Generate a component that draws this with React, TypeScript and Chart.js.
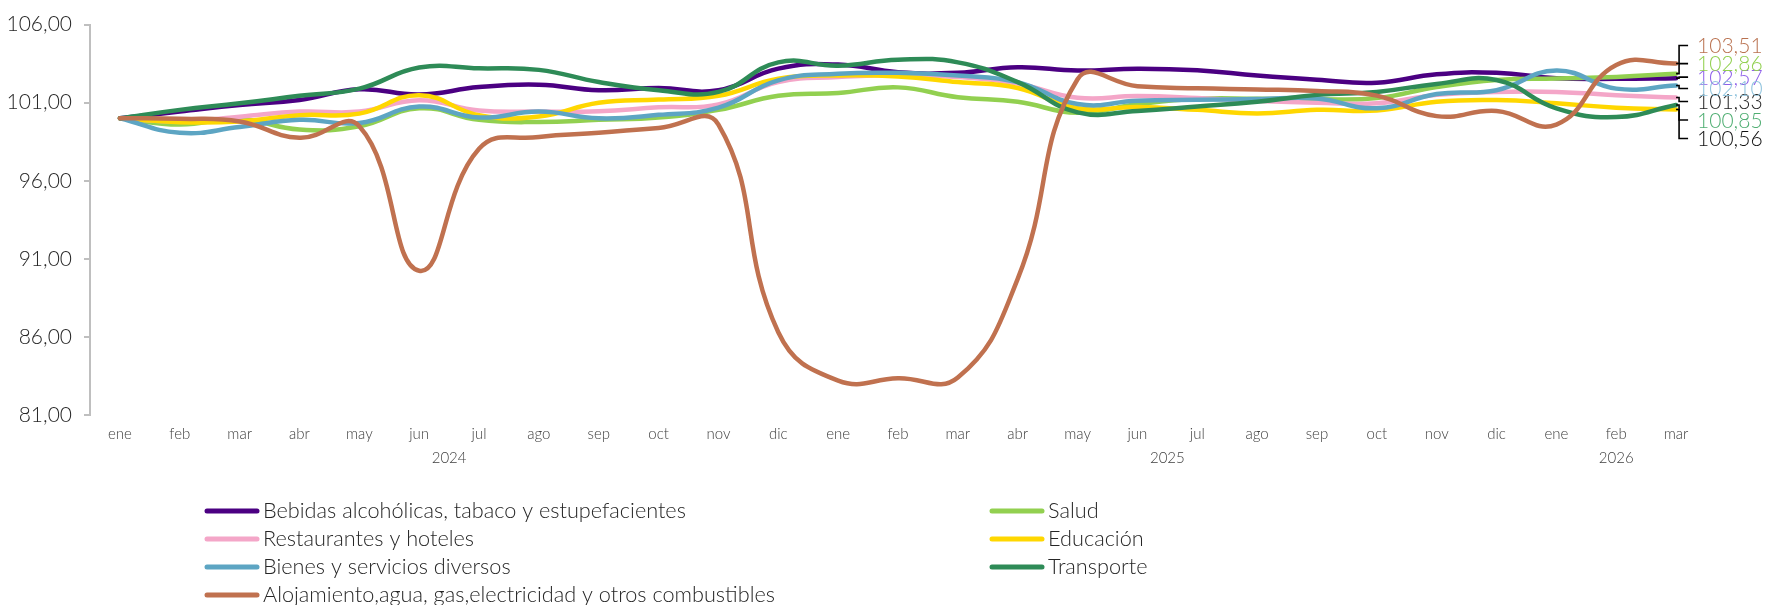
import React, { useEffect, useRef } from 'react';
import { Chart, registerables } from 'chart.js';

Chart.register(...registerables);

// ---------- DATA ----------
const months = ['ene', 'feb', 'mar', 'abr', 'may', 'jun', 'jul', 'ago', 'sep', 'oct', 'nov', 'dic',
  'ene', 'feb', 'mar', 'abr', 'may', 'jun', 'jul', 'ago', 'sep', 'oct', 'nov', 'dic',
  'ene', 'feb', 'mar'];
const yearLabels = ['2024', '2025', '2026'];
const yearFirstIndex = [0, 12, 24];
const yearLastIndex = [11, 23, 26];
const yTicks = [81, 86, 91, 96, 101, 106];

const bebidas = [100, 100.43, 100.85, 101.17, 101.86, 101.52, 102.0, 102.15, 101.8, 101.94, 101.8, 103.18, 103.44,
  102.95, 102.91, 103.27, 103.06, 103.18, 103.08, 102.74, 102.47, 102.28, 102.82, 102.91, 102.57, 102.53, 102.57];
const salud = [100, 99.6, 99.95, 99.28, 99.49, 100.64, 99.9, 99.76, 99.9, 100.05, 100.54, 101.44, 101.62,
  101.98, 101.35, 101.06, 100.35, 100.9, 101.25, 101.25, 101.22, 101.3, 102.0, 102.45, 102.55, 102.65, 102.86];
const restaurantes = [100, 99.8, 100.1, 100.43, 100.43, 101.15, 100.5, 100.43, 100.45, 100.7, 100.89, 102.32, 102.64,
  102.78, 102.64, 102.22, 101.31, 101.42, 101.3, 101.1, 101.0, 100.96, 101.5, 101.69, 101.69, 101.48, 101.33];
const educacion = [100, 99.75, 99.8, 100.2, 100.3, 101.48, 100.2, 100.12, 101.0, 101.2, 101.44, 102.53, 102.74,
  102.68, 102.32, 101.94, 100.64, 100.72, 100.54, 100.3, 100.54, 100.5, 101.06, 101.17, 100.96, 100.68, 100.56];
const bienes = [100, 99.07, 99.44, 99.9, 99.7, 100.75, 100.05, 100.43, 100.0, 100.22, 100.68, 102.43, 102.85,
  102.91, 102.74, 102.32, 100.91, 101.12, 101.18, 101.23, 101.27, 100.64, 101.55, 101.8, 103.06, 101.9, 102.10];
const transporte = [100, 100.54, 100.96, 101.44, 101.9, 103.25, 103.2, 103.1, 102.32, 101.8, 101.69, 103.58, 103.37,
  103.75, 103.58, 102.32, 100.38, 100.47, 100.75, 101.06, 101.5, 101.69, 102.2, 102.45, 100.64, 100.08, 100.85];
const alojamiento = [100, 99.97, 99.8, 98.75, 99.49, 90.24, 98.05, 98.8, 99.07, 99.38, 99.6, 86.3, 83.2,
  83.35, 83.4, 89.72, 102.5, 102.05, 101.92, 101.85, 101.75, 101.45, 100.14, 100.47, 99.6, 103.41, 103.51];

const seriesNames = [
  'Bebidas alcohólicas, tabaco y estupefacientes',
  'Salud',
  'Restaurantes y hoteles',
  'Educación',
  'Bienes y servicios diversos',
  'Transporte',
  'Alojamiento,agua, gas,electricidad y otros combustibles',
];
const seriesValues = [bebidas, salud, restaurantes, educacion, bienes, transporte, alojamiento];

// ---------- STYLE ----------
const lineColors = ['#4B0082', '#92D050', '#F4A6C8', '#FFD700', '#5DA5C3', '#2E8B57', '#C0714F'];
const endLabelColors = ['#8E5FEA', '#92D050', '#222222', '#111111', '#8FC3DD', '#4FAE72', '#B9714F'];
const endLabelOffsets = [-1, -10, 4, 29, 3, 15, -18];
const legendRows = [0, 1, 2, 3, 4, 5, 6];
const legendPos = [
  [205, 511], [990, 511],
  [205, 539], [990, 539],
  [205, 567], [990, 567],
  [205, 595],
];
const FONT = 'Lato, "Open Sans", sans-serif';
const TEXT = '#404040';

const fmt = (v: number) => v.toFixed(2).replace('.', ',');

const yearPlugin = {
  id: 'yearLabels',
  afterDraw(chart: any) {
    const x = chart.scales.x;
    const ctx = chart.ctx;
    ctx.save();
    ctx.font = `300 15px ${FONT}`;
    ctx.fillStyle = TEXT;
    ctx.textAlign = 'center';
    ctx.textBaseline = 'middle';
    yearLabels.forEach((lab, i) => {
      const cx = (x.getPixelForTick(yearFirstIndex[i]) + x.getPixelForTick(yearLastIndex[i])) / 2;
      ctx.fillText(lab, cx, 458);
    });
    ctx.restore();
  },
};

const legendPlugin = {
  id: 'customLegend',
  afterDraw(chart: any) {
    const ctx = chart.ctx;
    ctx.save();
    ctx.font = `300 21.7px ${FONT}`;
    ctx.textBaseline = 'middle';
    ctx.textAlign = 'left';
    legendRows.forEach((si, k) => {
      const [lx, ly] = legendPos[k];
      ctx.strokeStyle = lineColors[si];
      ctx.lineWidth = 5;
      ctx.lineCap = 'round';
      ctx.beginPath();
      ctx.moveTo(lx + 2, ly);
      ctx.lineTo(lx + 52, ly);
      ctx.stroke();
      ctx.fillStyle = '#262626';
      ctx.fillText(seriesNames[si], lx + 58, ly);
    });
    ctx.restore();
  },
};

const endLabelPlugin = {
  id: 'endLabels',
  afterDatasetsDraw(chart: any) {
    const ctx = chart.ctx;
    ctx.save();
    ctx.font = `300 21px ${FONT}`;
    ctx.textBaseline = 'middle';
    ctx.textAlign = 'left';
    seriesValues.forEach((vals, i) => {
      const meta = chart.getDatasetMeta(i);
      const pt = meta.data[vals.length - 1];
      const x = pt.x;
      const y = pt.y;
      const yl = y + endLabelOffsets[i];
      ctx.strokeStyle = '#000';
      ctx.lineWidth = 1.6;
      ctx.beginPath();
      ctx.moveTo(x, y);
      ctx.lineTo(x + 3, y);
      ctx.lineTo(x + 3, yl);
      ctx.lineTo(x + 12, yl);
      ctx.stroke();
      ctx.fillStyle = endLabelColors[i];
      ctx.fillText(fmt(vals[vals.length - 1]), x + 21, yl + 1);
    });
    ctx.restore();
  },
};

export default function App() {
  const ref = useRef<HTMLCanvasElement>(null);
  useEffect(() => {
    if (!ref.current) return;
    const chart = new Chart(ref.current, {
      type: 'line',
      data: {
        labels: months,
        datasets: seriesValues.map((vals, i) => ({
          label: seriesNames[i],
          data: vals,
          borderColor: lineColors[i],
          backgroundColor: lineColors[i],
          borderWidth: 4.5,
          pointRadius: 0,
          tension: 0.45,
          fill: false,
          borderCapStyle: 'round',
          borderJoinStyle: 'round',
          order: 7 - i,
        })),
      },
      options: {
        animation: false,
        responsive: false,
        devicePixelRatio: 1,
        layout: { padding: { left: 0, right: 59, top: 18, bottom: 0 } },
        plugins: { legend: { display: false }, tooltip: { enabled: false } },
        scales: {
          x: {
            type: 'category',
            offset: true,
            grid: { display: false, drawTicks: false },
            border: { display: false },
            ticks: {
              autoSkip: false,
              maxRotation: 0,
              padding: 10,
              color: TEXT,
              font: { family: FONT, size: 15, weight: '300' },
            },
            afterFit(scale: any) {
              scale.height = 190;
            },
          },
          y: {
            min: 81,
            max: 106,
            afterBuildTicks(scale: any) {
              scale.ticks = yTicks.map((v) => ({ value: v }));
            },
            ticks: {
              padding: 12,
              color: '#262626',
              font: { family: FONT, size: 21, weight: '300' },
              callback: (v: any) => fmt(Number(v)),
            },
            grid: { drawOnChartArea: false, drawTicks: true, tickLength: 6, color: '#BFBFBF', lineWidth: 2 },
            border: { display: true, color: '#BFBFBF', width: 2 },
            afterFit(scale: any) {
              scale.width = 90;
            },
          },
        },
      },
      plugins: [yearPlugin, legendPlugin, endLabelPlugin],
    } as any);
    return () => chart.destroy();
  }, []);
  return (
    <div style={{ position: 'fixed', left: 0, top: 0, width: 1765, height: 605, background: '#fff' }}>
      <canvas ref={ref} width={1765} height={605} style={{ width: 1765, height: 605, display: 'block' }} />
    </div>
  );
}
